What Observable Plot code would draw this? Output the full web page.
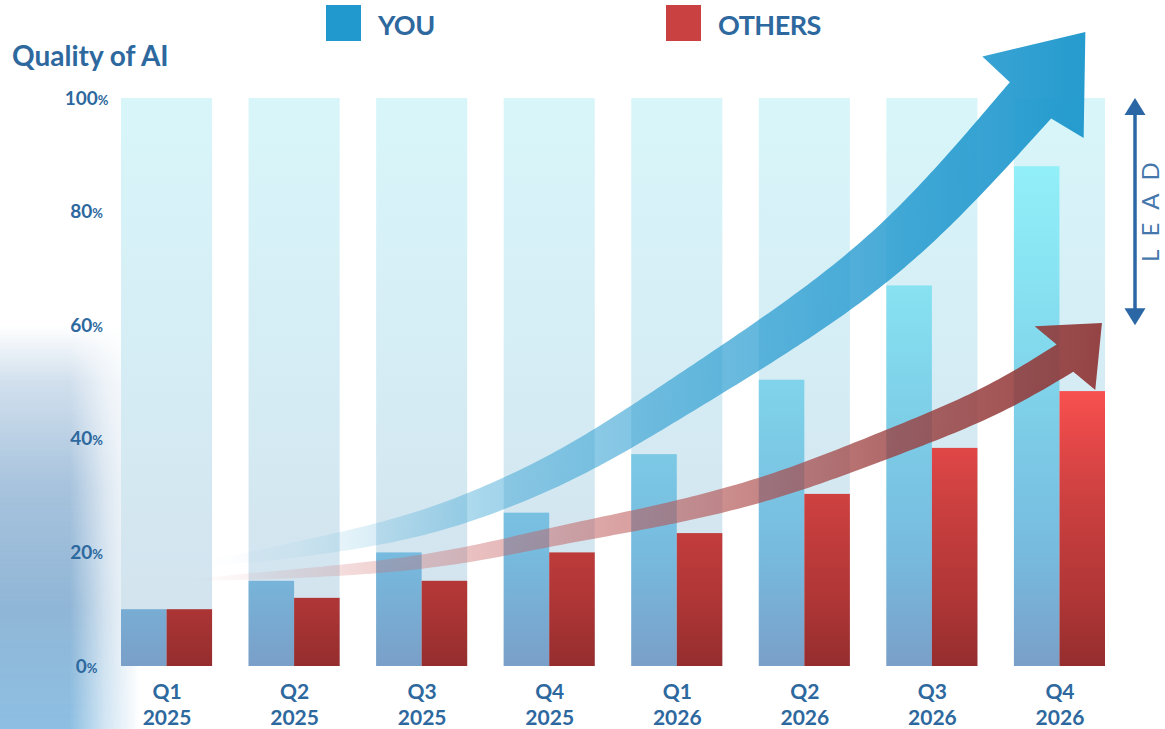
<!DOCTYPE html>
<html>
<head>
<meta charset="utf-8">
<script src="https://cdn.jsdelivr.net/npm/d3@7"></script>
<script src="https://cdn.jsdelivr.net/npm/@observablehq/plot@0.6"></script>
<style>
  body { margin: 0; background: #fff; }
  #wrap { position: relative; width: 1165px; height: 729px; overflow: hidden; font-family: Lato, "Open Sans", sans-serif; }
  #glow { position: absolute; left: 0; top: 325px; width: 140px; height: 404px;
    background: linear-gradient(to bottom, rgba(175,200,225,0) 0%, rgba(165,193,220,0.5) 14%, rgba(145,180,212,0.8) 40%, rgba(132,174,210,0.9) 70%, rgba(135,188,225,0.95) 100%);
    -webkit-mask-image: linear-gradient(to right, #000 0%, #000 50%, rgba(0,0,0,0.4) 75%, transparent 100%);
    mask-image: linear-gradient(to right, #000 0%, #000 50%, rgba(0,0,0,0.4) 75%, transparent 100%); }
  #chart { position: absolute; left: 0; top: 0; }
  #title { position: absolute; left: 12px; top: 38px; font: 700 28px Lato, sans-serif; color: #2d689e; white-space: nowrap; }
  .leg { position: absolute; top: 5px; height: 36px; display: flex; align-items: center; white-space: nowrap; }
  .sw { width: 35px; height: 36px; display: inline-block; }
  .lt { font: 700 27px Lato, sans-serif; letter-spacing: -0.5px; color: #2d689e; margin-left: 17px; position: relative; top: 1px; }
</style>
</head>
<body>
<div id="wrap">
  <div id="glow"></div>
  <div id="chart"></div>
  <div id="title"></div>
  <div id="legend"></div>
</div>
<script>
// ---------- data ----------
const periods = ["Q1\n2025", "Q2\n2025", "Q3\n2025", "Q4\n2025", "Q1\n2026", "Q2\n2026", "Q3\n2026", "Q4\n2026"];
const seriesNames = ["YOU", "OTHERS"];
const seriesColors = ["#2199cf", "#c94141"];
const youValues = [10, 15, 20, 27, 37.3, 50.4, 67, 88];
const othersValues = [10, 12, 15, 20, 23.4, 30.3, 38.4, 48.4];
const yTicks = [0, 20, 40, 60, 80, 100];
const scaleMax = 100;
const titleText = "Quality of AI";
const leadText = "LEAD";
const leadRange = [60, 100];
// trend arrows: [position in periods (0 = left edge of first group), percent]
const youTrend = [[0.62, 17.8], [2.03, 22.7], [2.82, 28.3], [3.60, 36.3], [4.38, 47.4], [5.48, 63.2], [6.27, 77.6], [7.13, 99.6]];
const youTrendTip = [7.56, 111.6];
const othersTrend = [[0.52, 15.1], [2.03, 17.1], [2.82, 19.9], [3.44, 23.1], [4.28, 26.6], [5.12, 31.3], [5.96, 38.6], [6.81, 46.1], [7.40, 54.2]];
const othersTrendTip = [7.69, 60.4];

// ---------- build ----------
const youRows = periods.map((p, i) => ({period: p, series: seriesNames[0], value: youValues[i]}));
const othersRows = periods.map((p, i) => ({period: p, series: seriesNames[1], value: othersValues[i]}));

const textColor = "#2d689e";

const plot = Plot.plot({
  width: 1165,
  height: 729,
  marginTop: 98,
  marginBottom: 63,
  marginLeft: 121,
  marginRight: 60,
  style: {fontFamily: "Lato, sans-serif", background: "transparent", overflow: "visible", color: textColor},
  fx: {domain: periods, paddingInner: 0.286, paddingOuter: 0, round: false, label: null},
  x: {domain: seriesNames, padding: 0, axis: null, round: false},
  y: {domain: [0, scaleMax], label: null},
  marks: [
    Plot.barY(periods, {fx: d => d, y: () => scaleMax, fill: "url(#gBack)"}),
    Plot.barY(youRows, {fx: "period", x: "series", y: "value", fill: "url(#gYou)"}),
    Plot.barY(othersRows, {fx: "period", x: "series", y: "value", fill: "url(#gOthers)"}),
    Plot.axisY({ticks: yTicks, tickSize: 0, tickPadding: 35, textAnchor: "middle", tickFormat: d => String(d), label: null}),
    Plot.axisFx({anchor: "bottom", tickSize: 0, tickPadding: 14, lineHeight: 1.24, tickFormat: d => d, label: null, fontSize: 21, fontWeight: "bold"})
  ]
});
document.getElementById("chart").appendChild(plot);

const svg = d3.select(plot);
const NS = "http://www.w3.org/2000/svg";

// gradients
const defs = svg.insert("defs", ":first-child");
function grad(id, stops, x1, y1, x2, y2) {
  const g = defs.append("linearGradient").attr("id", id).attr("gradientUnits", "userSpaceOnUse")
    .attr("x1", x1).attr("y1", y1).attr("x2", x2).attr("y2", y2);
  stops.forEach(([o, c, a]) => g.append("stop").attr("offset", o).attr("stop-color", c).attr("stop-opacity", a == null ? 1 : a));
}
const yS = plot.scale("y");
const fxS = plot.scale("fx");
const yTop = yS.apply(scaleMax), yBot = yS.apply(0);
grad("gBack", [[0, "#d8f6fa"], [0.5, "#d5ecf4"], [1, "#d2e1ed"]], 0, yTop, 0, yBot);
grad("gYou", [[0, "#95f2fa"], [0.12, "#92f0f9"], [0.35, "#86e0f0"], [0.6, "#7ccbe6"], [0.8, "#77bbdf"], [1, "#7a9fc8"]], 0, yTop, 0, yBot);
grad("gOthers", [[0, "#ff5a56"], [0.48, "#ff5552"], [0.585, "#e84949"], [0.67, "#d44343"], [0.74, "#c73e3e"], [0.88, "#b03636"], [1, "#952d2e"]], 0, yTop, 0, yBot);

// axis styling
svg.selectAll('g[aria-label="y-axis tick label"] text').each(function() {
  const t = this.textContent;
  const s = d3.select(this).text(null).attr("font-size", 19).attr("font-weight", 700).attr("fill", textColor);
  s.append("tspan").text(t);
  s.append("tspan").attr("font-size", 13).text("%");
});
svg.selectAll('g[aria-label="fx-axis tick label"] text').attr("font-size", 21).attr("font-weight", 700).attr("fill", textColor);

// trend arrows (positions through the fx and y scales)
const n = periods.length;
const x0 = fxS.apply(periods[0]);
const step = fxS.step != null ? fxS.step : (fxS.range[1] - fxS.range[0]) / (n - fxS.paddingInner + 2 * fxS.paddingOuter);
const toPx = ([t, v]) => [x0 + t * step, yS.apply(v)];

const arrowLayer = svg.append("g").attr("aria-label", "trend arrows");
function drawArrow(trend, tipData, endW, headHalf, headFwd, expo, fillId) {
  const pts = trend.map(toPx);
  const tip = toPx(tipData);
  const tmp = document.createElementNS(NS, "path");
  tmp.setAttribute("d", d3.line().curve(d3.curveBasis)(pts));
  plot.appendChild(tmp);
  const L = tmp.getTotalLength();
  const N = 160, up = [], lo = [];
  for (let i = 0; i <= N; i++) {
    const s = L * i / N;
    const p = tmp.getPointAtLength(s);
    const a = tmp.getPointAtLength(Math.max(0, s - 2));
    const b = tmp.getPointAtLength(Math.min(L, s + 2));
    let tx = b.x - a.x, ty = b.y - a.y; const tl = Math.hypot(tx, ty) || 1; tx /= tl; ty /= tl;
    const nx = -ty, ny = tx;
    const w = endW * Math.pow(i / N, expo) / 2;
    up.push([p.x - nx * w, p.y - ny * w]);
    lo.push([p.x + nx * w, p.y + ny * w]);
  }
  const E = tmp.getPointAtLength(L);
  plot.removeChild(tmp);
  let dx = tip[0] - E.x, dy = tip[1] - E.y; const dl = Math.hypot(dx, dy); dx /= dl; dy /= dl;
  const hx = -dy, hy = dx;
  const cu = [E.x + dx * headFwd - hx * headHalf, E.y + dy * headFwd - hy * headHalf];
  const cl = [E.x + dx * headFwd + hx * headHalf, E.y + dy * headFwd + hy * headHalf];
  const poly = [...up, cu, tip, cl, ...lo.reverse()];
  arrowLayer.append("path").attr("d", "M" + poly.map(p => p[0].toFixed(2) + "," + p[1].toFixed(2)).join("L") + "Z")
    .attr("fill", `url(#${fillId})`);
}
{
  const ys = toPx(youTrend[0])[0], ye = toPx(youTrendTip)[0];
  grad("gArrowYou", [[0, "#2399cf", 0], [0.11, "#2399cf", 0.05], [0.2, "#2399cf", 0.17], [0.32, "#2399cf", 0.4], [0.59, "#2399cf", 0.67], [0.81, "#2399cf", 0.85], [1, "#1f98cd", 0.97]], ys, 0, ye, 0);
  const os = toPx(othersTrend[0])[0], oe = toPx(othersTrendTip)[0];
  grad("gArrowOthers", [[0, "#d88888", 0], [0.21, "#d06a6a", 0.3], [0.41, "#c25c5c", 0.5], [0.59, "#b04f4f", 0.65], [0.78, "#9a4040", 0.8], [1, "#8f3535", 0.92]], os, 0, oe, 0);
}
drawArrow(youTrend, youTrendTip, 55, 65, 4, 0.55, "gArrowYou");
drawArrow(othersTrend, othersTrendTip, 32, 44, 0, 0.6, "gArrowOthers");

// LEAD marker, between two y values
{
  const lx = fxS.range[1] + 30;
  const yA = yS.apply(leadRange[1]), yB = yS.apply(leadRange[0]);
  const g = svg.append("g").attr("aria-label", "lead");
  const c = "#2c67a5";
  g.append("line").attr("x1", lx).attr("x2", lx).attr("y1", yA + 10).attr("y2", yB - 10).attr("stroke", c).attr("stroke-width", 3.5);
  g.append("path").attr("d", `M${lx},${yA}L${lx + 10.5},${yA + 17}L${lx - 10.5},${yA + 17}Z`).attr("fill", c);
  g.append("path").attr("d", `M${lx},${yB}L${lx + 10.5},${yB - 17}L${lx - 10.5},${yB - 17}Z`).attr("fill", c);
  const ym = (yA + yB) / 2;
  g.append("text").attr("transform", `translate(${lx + 24},${ym}) rotate(-90)`)
    .attr("text-anchor", "middle").attr("dx", 6)
    .attr("font-family", "Lato, sans-serif").attr("font-size", 24).attr("letter-spacing", 13)
    .attr("fill", "#4577ac").text(leadText);
}

// title and legend
document.getElementById("title").textContent = titleText;
const legend = document.getElementById("legend");
const legendLeft = [326, 666];
seriesNames.forEach((name, i) => {
  const item = document.createElement("div");
  item.className = "leg";
  item.style.left = legendLeft[i] + "px";
  item.innerHTML = `<span class="sw" style="background:${seriesColors[i]}"></span><span class="lt">${name}</span>`;
  legend.appendChild(item);
});
</script>
</body>
</html>
